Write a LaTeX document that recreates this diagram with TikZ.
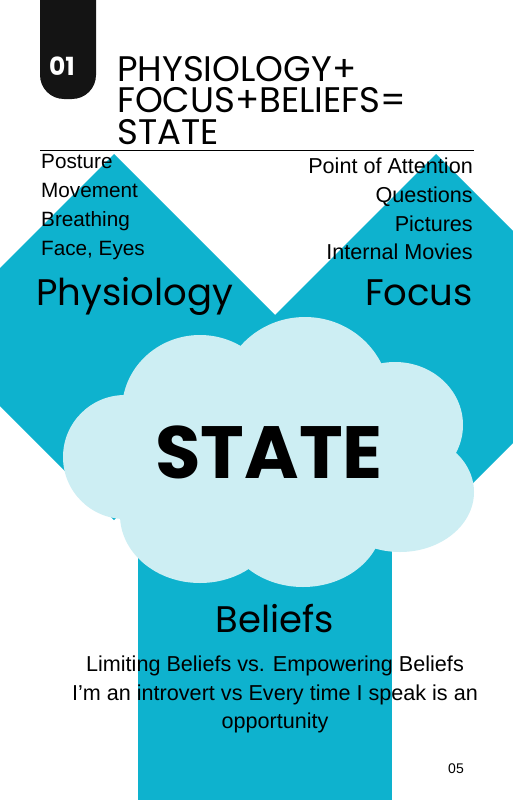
\documentclass[tikz,border=0pt]{standalone}
\usepackage{fontspec}
\setmainfont{Liberation Sans}
\newfontfamily\pop{Poppins}
\definecolor{teal}{RGB}{14,178,206}
\definecolor{cloudc}{RGB}{205,238,243}
\begin{document}
\begin{tikzpicture}[x=1pt,y=-1pt,
  body/.style={inner sep=0pt,font=\fontsize{20.7}{24}\selectfont},
  bodyw/.style={inner sep=0pt,font=\fontsize{21.6}{24}\selectfont},
  head/.style={inner sep=0pt,font=\pop\fontsize{37}{40}\selectfont},
  ttl/.style={inner sep=0pt,align=left,anchor=north west,font=\pop\fontsize{35.5}{31.5}\selectfont}]
\useasboundingbox (0,0) rectangle (512,800);
\fill[white] (0,0) rectangle (512,800);
% teal shapes
\fill[teal] (114,154) -- (297,337) -- (114,520) -- (-69,337) -- cycle;
\fill[teal] (436,154) -- (619,337) -- (436,520) -- (253,337) -- cycle;
\fill[teal] (138,450) rectangle (392,800);
% cloud
\begin{scope}[fill=cloudc]
\fill (125,457) ellipse [x radius=62, y radius=62];
\fill (200,410) ellipse [x radius=78, y radius=75];
\fill (305,400) ellipse [x radius=85, y radius=83];
\fill (395,425) ellipse [x radius=68, y radius=63];
\fill (400,492) ellipse [x radius=74, y radius=60];
\fill (303,520) ellipse [x radius=80, y radius=67];
\fill (200,515) ellipse [x radius=80, y radius=68];
\fill (150,400) rectangle (420,530);
\end{scope}
% black tab
\fill[black!92] [rounded corners=24pt] (40,-40) rectangle (96,99);
\node[inner sep=0pt,text=white,font=\pop\bfseries\fontsize{25}{28}\selectfont] (num) at (62,66) {01};
% title
\node[ttl] (title) at (117,56) {PHYSIOLOGY+\\FOCUS+BELIEFS=\\STATE};
\draw[line width=0.8pt] (40,150) -- (474,150);
% left list
\node[body,anchor=base west] (p1) at (41,168) {Posture};
\node[body,anchor=base west] (p2) at (41,197) {Movement};
\node[body,anchor=base west] (p3) at (41,226) {Breathing};
\node[body,anchor=base west] (p4) at (41,255) {Face, Eyes};
% right list
\node[bodyw,anchor=base east] (f1) at (473,173) {Point of Attention};
\node[bodyw,anchor=base east] (f2) at (473,202) {Questions};
\node[bodyw,anchor=base east] (f3) at (473,231) {Pictures};
\node[bodyw,anchor=base east] (f4) at (473,259) {Internal Movies};
% headings
\node[head,anchor=base west] (phys) at (36,305) {Physiology};
\node[head,anchor=base east] (foc) at (473,305) {Focus};
\node[inner sep=0pt,anchor=base,font=\pop\bfseries\fontsize{74}{80}\selectfont] (state) at (269,478) {STATE};
\node[head,anchor=base] (bel) at (275,632) {Beliefs};
\node[bodyw,anchor=base] (b1) at (275,671) {Limiting Beliefs vs. Empowering Beliefs};
\node[bodyw,anchor=base] (b2) at (275,700) {I’m an introvert vs Every time I speak is an};
\node[bodyw,anchor=base] (b3) at (275,728) {opportunity};
\node[inner sep=0pt,anchor=base,font=\fontsize{14}{16}\selectfont] (pg) at (456,773) {05};
\end{tikzpicture}
\end{document}
